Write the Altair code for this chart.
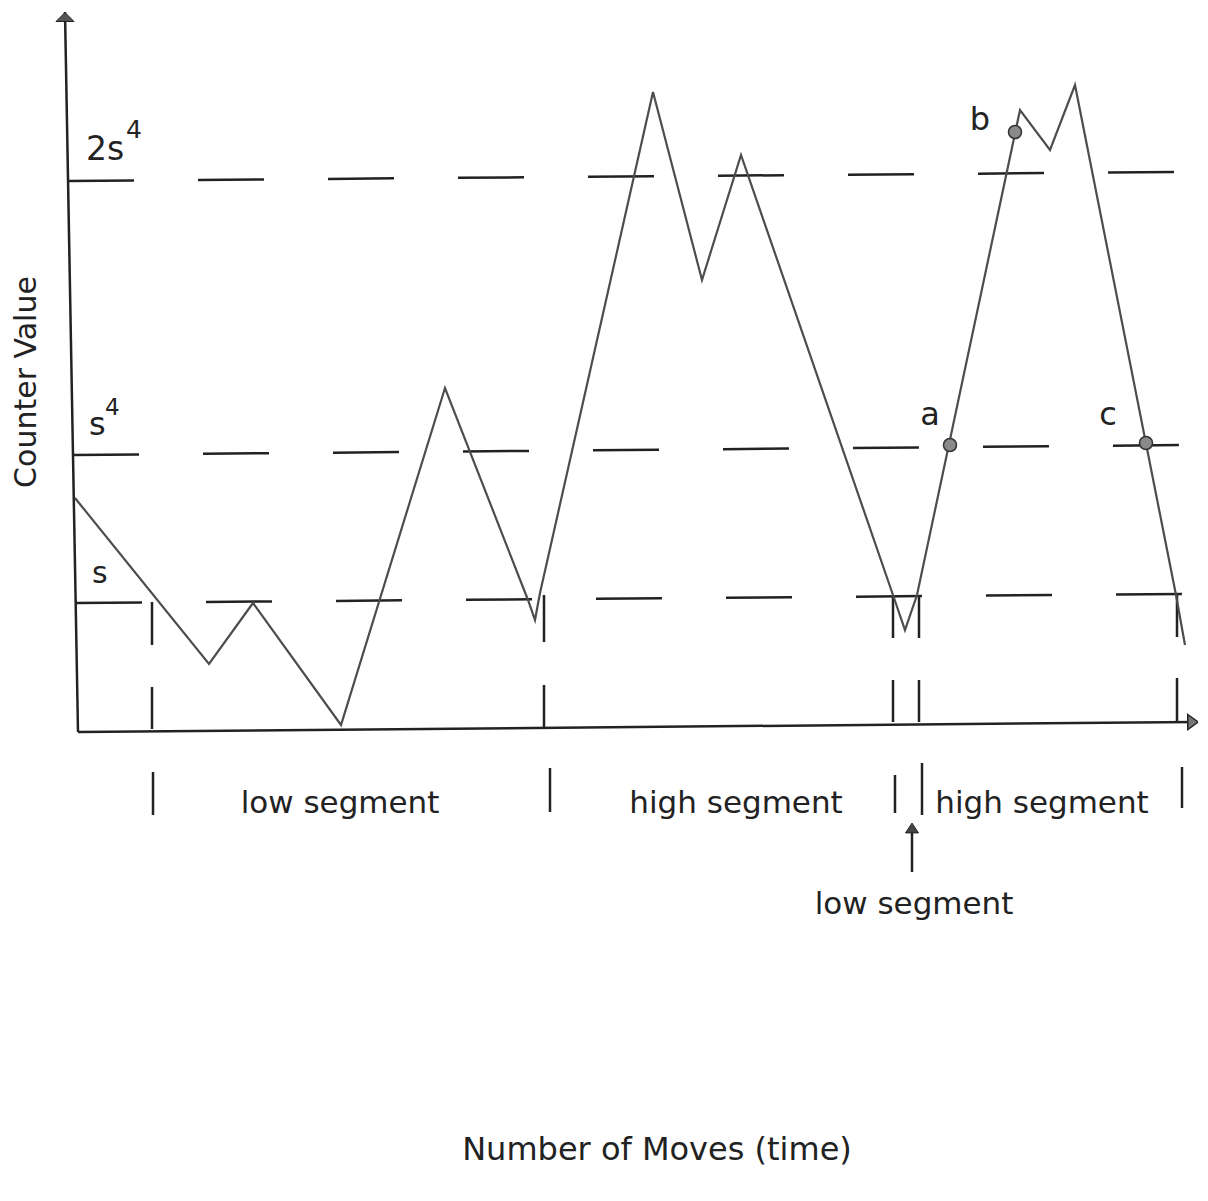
import altair as alt
import pandas as pd

# ---- data (x = moves, y = counter value) ----
line_x = [-3, 131, 175, 263, 367, 450, 457, 462, 575, 624, 663, 815, 827, 839, 942, 972, 997, 1098, 1107]
line_y = [234, 68, 129, 7, 344, 132, 112, 139, 640, 452, 577, 137, 102, 137, 622, 582, 647, 137, 87]

level_names = ["2s^4", "s^4", "s"]
level_x1 = [-10, -5, -2]
level_y1 = [551, 277, 129]
level_x2 = [1102, 1107, 1104]
level_y2 = [560, 287, 138]

point_names = ["a", "b", "c"]
point_x = [872, 937, 1068]
point_y = [287, 600, 289]

mark_x = [74, 466, 815, 841, 1099]
mark_up_top = [130, 137, 137, 137, 137]
mark_up_bot = [87, 90, 94, 94, 95]
mark_lo_top = [45, 47, 52, 52, 54]
mark_lo_bot = [3, 5, 10, 10, 10]

sep_x = [75, 472, 817, 844, 1104]
sep_top = [-40, -36, -43, -31, -35]
sep_bot = [-83, -80, -81, -83, -76]

seg_labels = ["low segment", "high segment", "high segment", "low segment"]
seg_x = [262, 658, 964, 836]
seg_y = [-81, -81, -81, -182]

X_DOMAIN = [-70, 1120]
Y_DOMAIN = [-454, 724]
W, H = 1190, 1178

xs = alt.Scale(domain=X_DOMAIN, nice=False, zero=False)
ys = alt.Scale(domain=Y_DOMAIN, nice=False, zero=False)
FONT = "DejaVu Sans"
INK = "#222222"


def X(f="x"):
    return alt.X(f + ":Q", scale=xs, axis=None)


def Y(f="y"):
    return alt.Y(f + ":Q", scale=ys, axis=None)


# axes (slightly tilted as in the scan)
axes_df = pd.DataFrame({"x": [0, 0], "y": [0, 0], "x2": [-13, 1117], "y2": [720, 10]})
axes = alt.Chart(axes_df).mark_rule(color=INK, strokeWidth=2.5).encode(
    x=X(), y=Y(), x2="x2:Q", y2="y2:Q")

levels_df = pd.DataFrame({"name": level_names, "x": level_x1, "y": level_y1,
                          "x2": level_x2, "y2": level_y2})
levels = alt.Chart(levels_df).mark_rule(color=INK, strokeWidth=2.5, strokeDash=[66, 64]).encode(
    x=X(), y=Y(), x2="x2:Q", y2="y2:Q")

ticks_rows = []
for i, mx in enumerate(mark_x):
    ticks_rows.append({"x": mx, "y": mark_up_top[i], "y2": mark_up_bot[i]})
    ticks_rows.append({"x": mx, "y": mark_lo_top[i], "y2": mark_lo_bot[i]})
for i, sx in enumerate(sep_x):
    ticks_rows.append({"x": sx, "y": sep_top[i], "y2": sep_bot[i]})
ticks_rows.append({"x": 834, "y": -95, "y2": -140})  # arrow shaft
ticks_df = pd.DataFrame(ticks_rows)
ticks = alt.Chart(ticks_df).mark_rule(color=INK, strokeWidth=2.5).encode(
    x=X(), y=Y(), y2="y2:Q")

line_df = pd.DataFrame({"i": list(range(len(line_x))), "x": line_x, "y": line_y})
line = alt.Chart(line_df).mark_line(color="#4d4d4d", strokeWidth=2.2, strokeJoin="miter").encode(
    x=X(), y=Y(), order="i:Q")

up_df = pd.DataFrame({"x": [-13], "y": [715]})
up_head = alt.Chart(up_df).mark_point(shape="M-1,0.5L0,-0.5L1,0.5Z", size=324, filled=True,
                                      color="#555555", stroke=INK, strokeWidth=1, opacity=1).encode(x=X(), y=Y())
right_df = pd.DataFrame({"x": [1115], "y": [10]})
right_head = alt.Chart(right_df).mark_point(shape="M-0.7,-1L0.7,0L-0.7,1Z", size=225, filled=True,
                                            color="#777777", stroke=INK, strokeWidth=1.5, opacity=1).encode(x=X(), y=Y())
small_df = pd.DataFrame({"x": [834], "y": [-96]})
small_head = alt.Chart(small_df).mark_point(shape="M-1,0.75L0,-0.75L1,0.75Z", size=169, filled=True,
                                            color="#444444", stroke=INK, strokeWidth=1, opacity=1).encode(x=X(), y=Y())

pts_df = pd.DataFrame({"name": point_names, "x": point_x, "y": point_y})
pts = alt.Chart(pts_df).mark_point(shape="circle", size=170, filled=True, color="#8a8a8a",
                                   stroke="#333333", strokeWidth=1.5, opacity=1).encode(x=X(), y=Y())

center_df = pd.DataFrame({
    "text": seg_labels + ["a", "b", "c", "Number of Moves (time)"],
    "x": seg_x + [852, 902, 1030, 579],
    "y": seg_y + [307, 602, 307, -428],
    "fs": [31, 31, 31, 31, 32, 32, 32, 32],
})
center_txt = alt.Chart(center_df).mark_text(align="center", baseline="alphabetic", font=FONT,
                                            color=INK).encode(
    x=X(), y=Y(), text="text:N", size=alt.Size("fs:Q", scale=None, legend=None))

left_df = pd.DataFrame({
    "text": ["2s", "4", "s", "4", "s"],
    "x": [8, 48, 11, 27, 14],
    "y": [572, 594, 297, 317, 149],
    "fs": [33, 25, 32, 23, 30],
})
left_txt = alt.Chart(left_df).mark_text(align="left", baseline="alphabetic", font=FONT,
                                        color=INK).encode(
    x=X(), y=Y(), text="text:N", size=alt.Size("fs:Q", scale=None, legend=None))

ytitle_df = pd.DataFrame({"text": ["Counter Value"], "x": [-51], "y": [350]})
ytitle = alt.Chart(ytitle_df).mark_text(angle=270, align="center", baseline="middle", font=FONT,
                                        fontSize=30, color=INK).encode(x=X(), y=Y(), text="text:N")

chart = alt.layer(levels, axes, ticks, line, up_head, right_head, small_head, pts,
                  center_txt, left_txt, ytitle).properties(
    width=W, height=H, padding=0, autosize=alt.AutoSizeParams(type="none"),
    background="white",
).configure_view(stroke=None)

chart.save("out.html", embed_options={"renderer": "svg", "actions": False})
